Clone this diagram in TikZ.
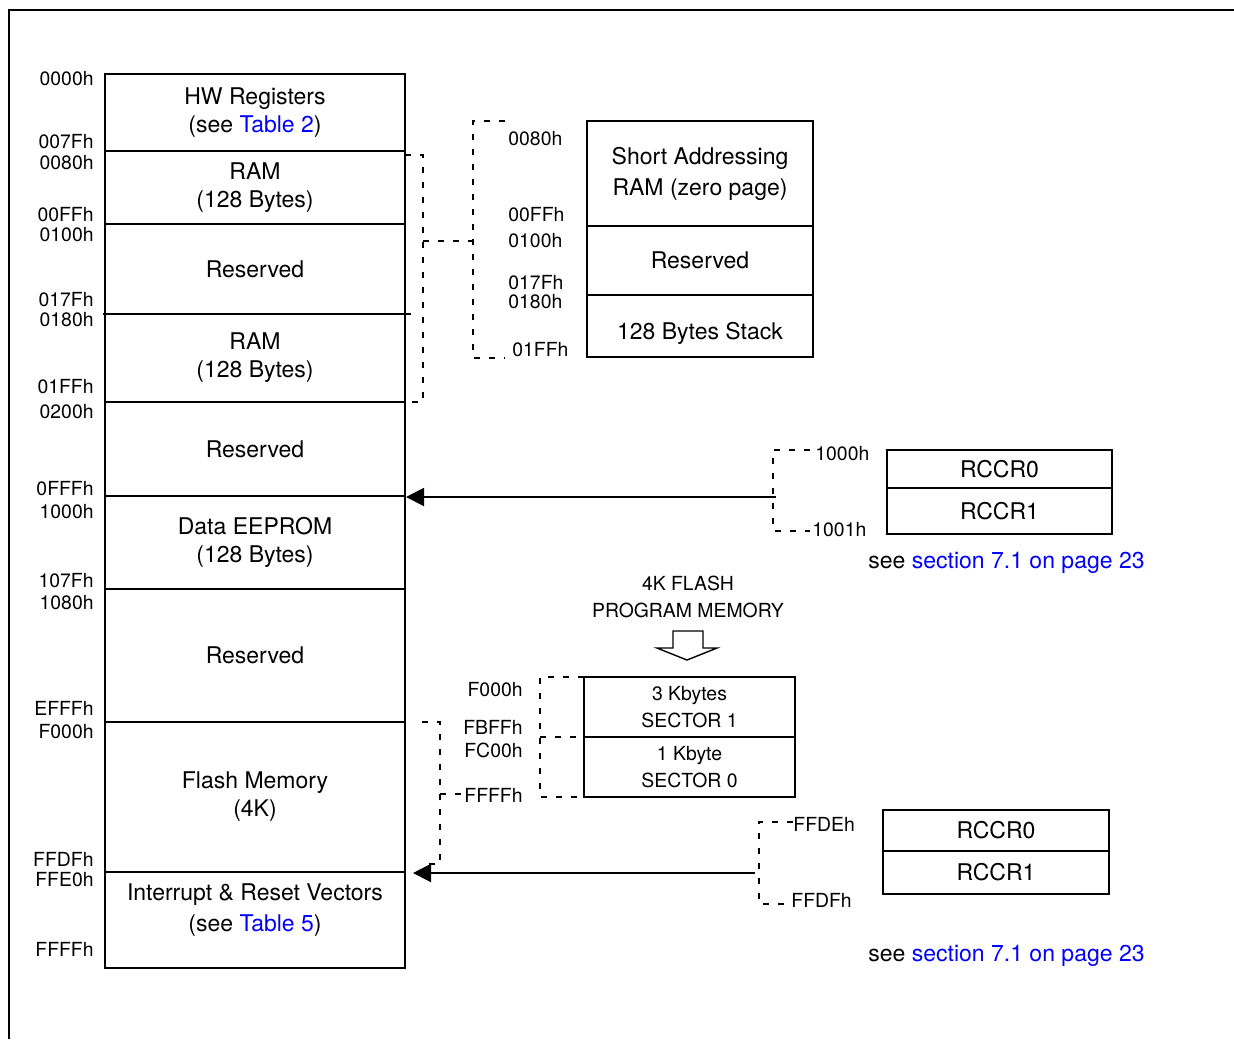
\documentclass[tikz,border=0pt]{standalone}
\usepackage{fontspec}
\setmainfont{TeX Gyre Heros}
\usetikzlibrary{arrows.meta}
\newcommand{\lnk}[1]{\textcolor{blue}{#1}}

\begin{document}
\begin{tikzpicture}[x=0.5pt, y=-0.5pt,
	cell/.style={draw, line width=1pt, inner sep=0pt, align=center, font=\fontsize{11.5}{14}\selectfont},
	mem/.style={cell, minimum width=150pt},
	addr/.style={inner sep=0pt, text height=7pt, text depth=0pt, font=\fontsize{9.7}{11}\selectfont},
	small/.style={inner sep=0pt, align=center, font=\fontsize{9.7}{13.5}\selectfont},
	note/.style={inner sep=0pt, font=\fontsize{11.5}{14}\selectfont},
	bracket/.style={line width=0.7pt, dash pattern=on 3pt off 4.5pt},
	feed/.style={line width=1pt, -{Triangle[length=9pt, width=9pt]}}]
	\useasboundingbox (0, 0) rectangle (1234, 1039);
	\draw [line width=0.8pt] (9, 1039) -- (9, 10) -- (1234, 10);

	\node [mem, minimum height=38.5pt] (HW) at (255, 112.5) {HW Registers\\(see \lnk{Table 2})};
	\node [mem, minimum height=36.5pt] (RAMa) at (255, 187.5) {RAM\\(128 Bytes)};
	\node [mem, minimum height=45pt] (RESa) at (255, 269) {Reserved};
	\node [mem, minimum height=44pt] (RAMb) at (255, 358) {RAM\\(128 Bytes)};
	\node [mem, minimum height=47pt] (RESb) at (255, 449) {Reserved};
	\node [mem, minimum height=46.5pt] (EEP) at (255, 542.5) {Data EEPROM\\(128 Bytes)};
	\node [mem, minimum height=66.5pt] (RESc) at (255, 655.5) {Reserved};
	\node [mem, minimum height=75pt] (FLASH) at (255, 797) {Flash Memory\\(4K)};
	\node [mem, minimum height=48pt, text depth=12pt, font=\fontsize{11.5}{15.5}\selectfont] (VEC) at (255, 920) {Interrupt \& Reset Vectors\\(see \lnk{Table 5})};
	\draw [line width=1pt] (103, 314) -- (411, 314);

	\node [addr, anchor=east] (m0000) at (94, 78) {0000h};
	\node [addr, anchor=east] (m007F) at (94, 141) {007Fh};
	\node [addr, anchor=east] (m0080) at (94, 162) {0080h};
	\node [addr, anchor=east] (m00FF) at (94, 214) {00FFh};
	\node [addr, anchor=east] (m0100) at (94, 234) {0100h};
	\node [addr, anchor=east] (m017F) at (94, 299) {017Fh};
	\node [addr, anchor=east] (m0180) at (94, 319) {0180h};
	\node [addr, anchor=east] (m01FF) at (94, 386) {01FFh};
	\node [addr, anchor=east] (m0200) at (94, 411) {0200h};
	\node [addr, anchor=east] (m0FFF) at (94, 488) {0FFFh};
	\node [addr, anchor=east] (m1000) at (94, 511) {1000h};
	\node [addr, anchor=east] (m107F) at (94, 580) {107Fh};
	\node [addr, anchor=east] (m1080) at (94, 602) {1080h};
	\node [addr, anchor=east] (mEFFF) at (94, 708) {EFFFh};
	\node [addr, anchor=east] (mF000) at (94, 731) {F000h};
	\node [addr, anchor=east] (mFFDF) at (94, 859) {FFDFh};
	\node [addr, anchor=east] (mFFE0) at (94, 879) {FFE0h};
	\node [addr, anchor=east] (mFFFF) at (94, 949) {FFFFh};

	\node [cell, minimum width=113pt, minimum height=52.5pt, font=\fontsize{11.5}{15.5}\selectfont] (ZP) at (700, 173.5) {Short Addressing\\RAM (zero page)};
	\node [cell, minimum width=113pt, minimum height=34.5pt] (ZRES) at (700, 260.5) {Reserved};
	\node [cell, minimum width=113pt, minimum height=31pt, text height=16pt] (STK) at (700, 326) {128 Bytes Stack};
	\node [addr, anchor=west] (z0080) at (508, 138) {0080h};
	\node [addr, anchor=west] (z00FF) at (508, 214) {00FFh};
	\node [addr, anchor=west] (z0100) at (508, 240) {0100h};
	\node [addr, anchor=west] (z017F) at (508, 282) {017Fh};
	\node [addr, anchor=west] (z0180) at (508, 301) {0180h};
	\node [addr, anchor=west] (z01FF) at (512, 349) {01FFh};

	\coordinate (Ra) at (405, 155);
	\coordinate (Rb) at (423, 155);
	\coordinate (Rc) at (423, 402);
	\coordinate (Rd) at (405, 402);
	\coordinate (Rm) at (423, 241);
	\coordinate (Zm) at (473, 241);
	\coordinate (Za) at (505, 121);
	\coordinate (Zb) at (473, 121);
	\coordinate (Zc) at (473, 358);
	\coordinate (Zd) at (505, 358);
	\draw [bracket] (Ra) -- (Rb) -- (Rc) -- (Rd);
	\draw [bracket] (Rm) -- (Zm);
	\draw [bracket] (Za) -- (Zb) -- (Zc) -- (Zd);

	\node [cell, minimum width=112.5pt, minimum height=19pt] (RCa0) at (999.5, 469) {RCCR0};
	\node [cell, minimum width=112.5pt, minimum height=23pt] (RCa1) at (999.5, 511) {RCCR1};
	\node [addr, anchor=west] (r1000) at (815, 453) {1000h};
	\node [addr, anchor=west] (r1001) at (812, 529) {1001h};
	\node [note] (SEEa) at (1006.5, 563) {see \lnk{section 7.1 on page 23}};
	\coordinate (Ea) at (810, 450);
	\coordinate (Eb) at (773, 450);
	\coordinate (Ec) at (773, 531);
	\coordinate (Ed) at (810, 531);
	\coordinate (EEPin) at (776, 497);
	\draw [bracket] (Ea) -- (Eb) -- (Ec) -- (Ed);
	\draw [feed] (EEPin) -- (EEPin -| EEP.east);

	\node [small] (PROG) at (688, 596.5) {4K FLASH\\PROGRAM MEMORY};
	\draw [line width=0.7pt] (673, 631) -- (703, 631) -- (703, 648) -- (717, 648) -- (687, 660) -- (657, 648) -- (673, 648) -- cycle;

	\node [cell, minimum width=105.5pt, minimum height=30pt, font=\fontsize{9.7}{13.5}\selectfont] (SEC1) at (689.5, 707) {3 Kbytes\\SECTOR 1};
	\node [cell, minimum width=105.5pt, minimum height=30pt, font=\fontsize{9.7}{13.5}\selectfont] (SEC0) at (689.5, 767) {1 Kbyte\\SECTOR 0};
	\node [addr, anchor=east] (sF000) at (523, 689) {F000h};
	\node [addr, anchor=east] (sFBFF) at (523, 727) {FBFFh};
	\node [addr, anchor=east] (sFC00) at (523, 750) {FC00h};
	\node [addr, anchor=east] (sFFFF) at (523, 795) {FFFFh};
	\coordinate (Sa) at (584, 677);
	\coordinate (Sb) at (540, 677);
	\coordinate (Sc) at (540, 797);
	\coordinate (Sd) at (584, 797);
	\coordinate (Sm) at (540, 737);
	\coordinate (Sn) at (584, 737);
	\draw [bracket] (Sa) -- (Sb) -- (Sc) -- (Sd);
	\draw [bracket] (Sm) -- (Sn);
	\coordinate (Fa) at (422, 722);
	\coordinate (Fb) at (440, 722);
	\coordinate (Fc) at (440, 864);
	\coordinate (Fd) at (420, 864);
	\coordinate (Fm) at (440, 794);
	\coordinate (Fn) at (465, 794);
	\draw [bracket] (Fa) -- (Fb) -- (Fc) -- (Fd);
	\draw [bracket] (Fm) -- (Fn);

	\node [cell, minimum width=113pt, minimum height=20.5pt] (RCb0) at (996, 830.5) {RCCR0};
	\node [cell, minimum width=113pt, minimum height=21.5pt] (RCb1) at (996, 872.5) {RCCR1};
	\node [addr, anchor=west] (vFFDE) at (793, 824) {FFDEh};
	\node [addr, anchor=west] (vFFDF) at (791, 900) {FFDFh};
	\node [note] (SEEb) at (1006.5, 956) {see \lnk{section 7.1 on page 23}};
	\coordinate (Va) at (793, 822);
	\coordinate (Vb) at (759, 822);
	\coordinate (Vc) at (759, 904);
	\coordinate (Vd) at (790, 904);
	\coordinate (VECin) at (755, 873);
	\draw [bracket] (Va) -- (Vb) -- (Vc) -- (Vd);
	\draw [feed, shorten >=3.5pt] (VECin) -- (VECin -| VEC.east);
\end{tikzpicture}
\end{document}
